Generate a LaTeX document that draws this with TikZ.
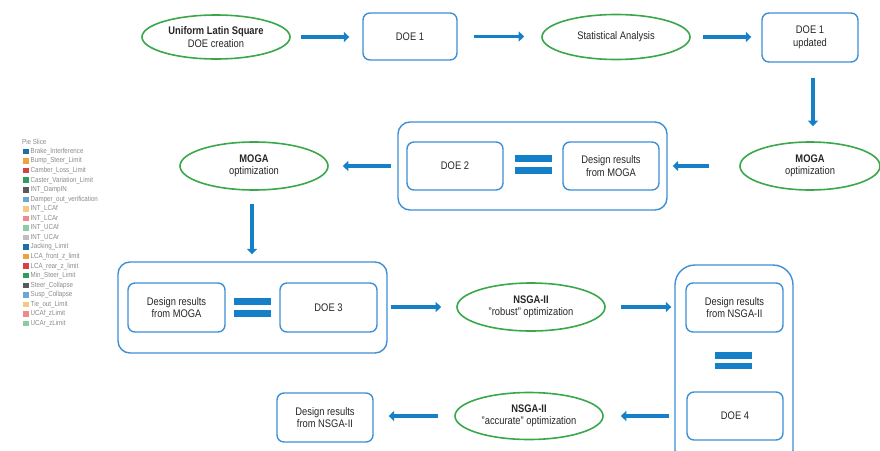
\documentclass[tikz,border=0pt]{standalone}
\usepackage{fontspec}
\setmainfont{Liberation Sans}[FakeStretch=0.85]
\usetikzlibrary{shapes.geometric,arrows.meta}
\definecolor{boxblue}{HTML}{3D8FD6}
\definecolor{arrblue}{HTML}{1580C8}
\definecolor{elgreen}{HTML}{3AA84A}
\definecolor{lgtxt}{HTML}{8A8A8A}
\definecolor{lc1}{HTML}{1F6FA0}
\definecolor{lc2}{HTML}{F0A33A}
\definecolor{lc3}{HTML}{D94040}
\definecolor{lc4}{HTML}{2E9E5E}
\definecolor{lc5}{HTML}{5A5A5A}
\definecolor{lc6}{HTML}{6BA8CF}
\definecolor{lc7}{HTML}{F6C887}
\definecolor{lc8}{HTML}{EE8A8A}
\definecolor{lc9}{HTML}{8DCBA5}
\definecolor{lc10}{HTML}{BEBEBE}
\tikzset{
  bx/.style={draw=boxblue, line width=1.4pt, rounded corners=7pt, align=center, inner sep=0pt,
    font=\fontsize{11}{12.5}\selectfont, text=black!85},
  bigbx/.style={draw=boxblue, line width=1.4pt, rounded corners=12pt, inner sep=0pt},
  el/.style={ellipse, draw=elgreen, line width=1.6pt, align=center, inner sep=0pt,
    font=\fontsize{11}{12.5}\selectfont, text=black!85},
  arr/.style={draw=arrblue, line width=3.6pt, -{Triangle[length=5.5pt,width=10pt]}},
  eqbar/.style={fill=arrblue, minimum width=37pt, minimum height=6.5pt, inner sep=0pt},
  lgsq/.style={minimum size=5.5pt, inner sep=0pt},
  lgtx/.style={anchor=west, inner sep=0pt, text=lgtxt, font=\fontsize{7.3}{7.5}\selectfont}
}
\begin{document}
\begin{tikzpicture}[x=1pt,y=-1pt]
\useasboundingbox (0,0) rectangle (880,450);
\clip (0,0) rectangle (880,450);
% top row
\node[el, minimum width=148pt, minimum height=44pt] (e1) at (216,37) {\textbf{Uniform Latin Square}\\DOE creation};
\node[bx, minimum width=94pt, minimum height=47pt] (doe1) at (410,36.5) {DOE 1};
\node[el, minimum width=148pt, minimum height=45pt] (e2) at (616,37) {Statistical Analysis};
\node[bx, minimum width=96pt, minimum height=49pt] (doe1u) at (810,37.5) {DOE 1\\updated};
% second row
\node[el, minimum width=140pt, minimum height=48pt] (e3) at (810,166) {\textbf{MOGA}\\optimization};
\node[bigbx, minimum width=269pt, minimum height=88pt] (big2) at (532.5,166) {};
\node[bx, minimum width=96pt, minimum height=48pt] (doe2) at (455,166) {DOE 2};
\node[bx, minimum width=96pt, minimum height=48pt] (dr2) at (611,166) {Design results\\from MOGA};
\node[eqbar] (eq2a) at (533.5,158.5) {};
\node[eqbar] (eq2b) at (533.5,170.5) {};
\node[el, minimum width=148pt, minimum height=48pt] (e4) at (254,166) {\textbf{MOGA}\\optimization};
% third row
\node[bigbx, minimum width=269pt, minimum height=91pt] (big3) at (252.5,307.5) {};
\node[bx, minimum width=97pt, minimum height=49pt] (dr3) at (176.5,307.5) {Design results\\from MOGA};
\node[eqbar] (eq3a) at (252,301.5) {};
\node[eqbar] (eq3b) at (252,313.5) {};
\node[bx, minimum width=97pt, minimum height=49pt] (doe3) at (328.5,307.5) {DOE 3};
\node[el, minimum width=148pt, minimum height=48pt] (e5) at (531,307) {\textbf{NSGA-II}\\"robust" optimization};
\node[bigbx, rounded corners=20pt, minimum width=118pt, minimum height=205pt] (big4) at (734,367.5) {};
\node[bx, minimum width=97pt, minimum height=49pt] (dr4) at (734.5,307.5) {Design results\\from NSGA-II};
\node[eqbar] (eq4a) at (733.5,355.5) {};
\node[eqbar] (eq4b) at (733.5,366) {};
\node[bx, minimum width=96pt, minimum height=48pt] (doe4) at (735,416) {DOE 4};
% bottom row
\node[el, minimum width=148pt, minimum height=47pt] (e6) at (529,416) {\textbf{NSGA-II}\\"accurate" optimization};
\node[bx, minimum width=96pt, minimum height=49pt] (dr5) at (325,417.5) {Design results\\from NSGA-II};
% arrows
\draw[arr] ([xshift=10pt]e1.east) -- ([xshift=-13pt]e1.east -| doe1.west);
\draw[arr] ([xshift=16pt]doe1.east) -- ([xshift=-17pt]doe1.east -| e2.west);
\draw[arr] ([xshift=12pt]e2.east) -- ([xshift=-10pt]e2.east -| doe1u.west);
\draw[arr] ([xshift=3pt,yshift=-15pt]doe1u.south) -- ([xshift=3pt,yshift=15pt]doe1u.south |- e3.north);
\draw[arr] ([xshift=-30pt]e3.west) -- ([xshift=5pt]e3.west -| big2.east);
\draw[arr] ([xshift=-6pt]big2.west) -- ([xshift=14pt]big2.west -| e4.east);
\draw[arr] ([xshift=-2pt,yshift=-13pt]e4.south) -- ([xshift=-2pt,yshift=7pt]e4.south |- big3.north);
\draw[arr] ([xshift=3pt]e5.west -| big3.east) -- ([xshift=-15pt]e5.west);
\draw[arr] ([xshift=15pt]e5.east) -- ([xshift=-3pt]e5.east -| big4.west);
\draw[arr] ([xshift=-5pt]doe4.west -| big4.west) -- ([xshift=17pt]doe4.west -| e6.east);
\draw[arr] ([xshift=-16pt]e6.west) -- ([xshift=15pt]e6.west -| dr5.east);
% legend
\node[lgtx] (lgt) at (22,142) {Pie Slice};
\foreach \i/\c/\t in {1/lc1/Brake\_Interference, 2/lc2/Bump\_Steer\_Limit, 3/lc3/Camber\_Loss\_Limit,
  4/lc4/Caster\_Variation\_Limit, 5/lc5/INT\_DampIN, 6/lc6/Damper\_out\_verification,
  7/lc7/INT\_LCAf, 8/lc8/INT\_LCAr, 9/lc9/INT\_UCAf, 10/lc10/INT\_UCAr, 11/lc1/Jacking\_Limit,
  12/lc2/LCA\_front\_z\_limit, 13/lc3/LCA\_rear\_z\_limit, 14/lc4/Min\_Steer\_Limit,
  15/lc5/Steer\_Collapse, 16/lc6/Susp\_Collapse, 17/lc7/Tie\_out\_Limit, 18/lc8/UCAf\_zLimit,
  19/lc9/UCAr\_zLimit}{
  \node[lgsq, fill=\c] (lgs\i) at (26, 142+9.55*\i) {};
  \node[lgtx] (lgl\i) at (30.5, 142+9.55*\i) {\t};
}
\end{tikzpicture}
\end{document}
